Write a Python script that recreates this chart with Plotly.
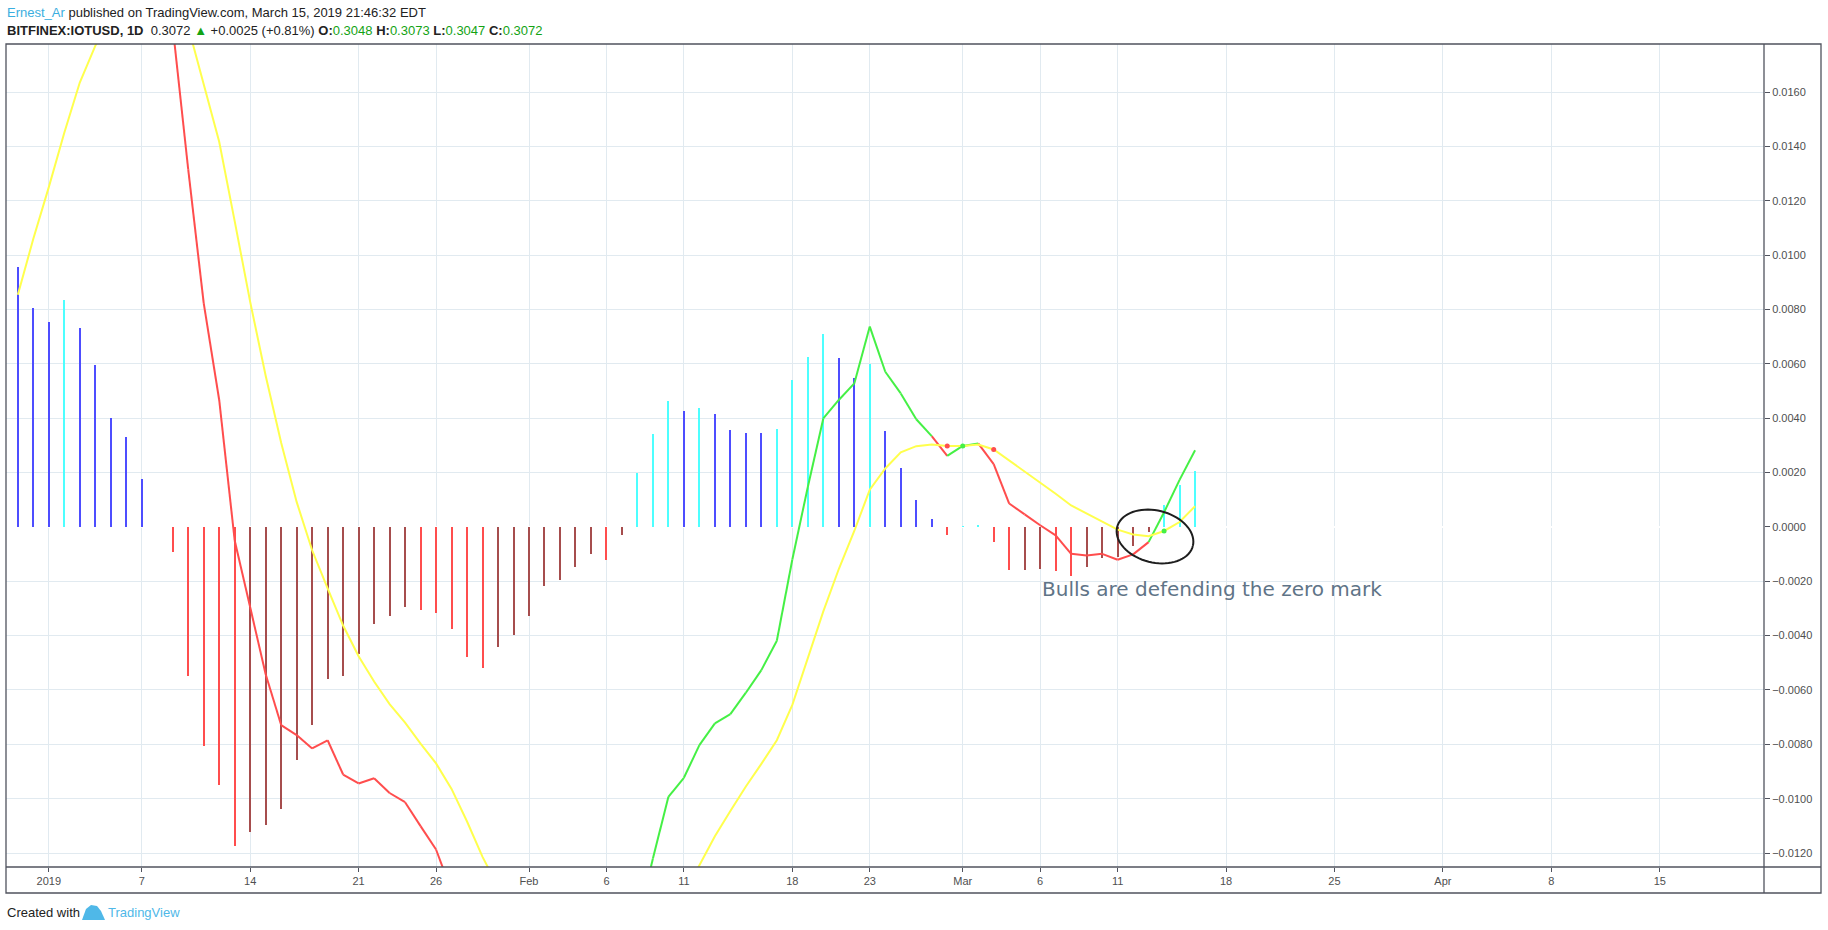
import numpy as np
import pandas as pd
import plotly.graph_objects as go

# daily MACD study, Dec 30 2018 .. Mar 16 2019
start_date = "2018-12-30"

hist = [
    0.00958, 0.00806,
    # Jan
    0.00755, 0.00836, 0.00733, 0.00596, 0.00400, 0.00330, 0.00175, 0.0,
    -0.00093, -0.00548, -0.00806, -0.00950, -0.01175, -0.01124, -0.01098, -0.01039,
    -0.00858, -0.00729, -0.00559, -0.00548, -0.00468, -0.00356, -0.00327, -0.00293,
    -0.00304, -0.00317, -0.00376, -0.00478, -0.00518, -0.00441, -0.00397,
    # Feb
    -0.00327, -0.00216, -0.00197, -0.00149, -0.00098, -0.00120, -0.00031, 0.00200,
    0.00341, 0.00463, 0.00426, 0.00437, 0.00415, 0.00356, 0.00345, 0.00344,
    0.00360, 0.00540, 0.00626, 0.00710, 0.00622, 0.00548, 0.00600, 0.00353,
    0.00216, 0.00098, 0.00028, -0.00031,
    # Mar
    0.00001, 0.00004, -0.00056, -0.00160, -0.00158, -0.00154, -0.00163, -0.00182,
    -0.00148, -0.00114, -0.00111, -0.00071, -0.00018, 0.00080, 0.00153, 0.00205,
]

macd = [
    0.0181, 0.0187,
    0.0200, 0.0229, 0.0237, 0.0237, 0.0227, 0.0228, 0.0217, 0.0199,
    0.0184, 0.01315, 0.00823, 0.00467, -0.0005, -0.00296, -0.00542, -0.00729,
    -0.00766, -0.00815, -0.00785, -0.00911, -0.00944, -0.00925, -0.00979, -0.01013,
    -0.01101, -0.01187, -0.0134, -0.0156, -0.0173, -0.0177, -0.0182,
    -0.0183, -0.0178, -0.0181, -0.0180, -0.0177, -0.0182, -0.0174, -0.0146,
    -0.0122, -0.00993, -0.00923, -0.00803, -0.00723, -0.00689, -0.0061, -0.00527,
    -0.00419, -0.0012, 0.00147, 0.00399, 0.00467, 0.00528, 0.00737, 0.00571,
    0.00491, 0.00396, 0.00334, 0.00261,
    0.00298, 0.00307, 0.00231, 0.00086, 0.00046, 0.00006, -0.00031, -0.00099,
    -0.00105, -0.00099, -0.00121, -0.00101, -0.00056, 0.00054, 0.00173, 0.00282,
]

signal = [
    0.00854, 0.0106,
    0.0125, 0.0145, 0.01635, 0.0177, 0.0187, 0.0195, 0.0199, 0.0199,
    0.0194, 0.0184, 0.01629, 0.01417, 0.01125, 0.00828, 0.00556, 0.0031,
    0.00092, -0.00086, -0.00226, -0.00363, -0.00476, -0.00569, -0.00652, -0.0072,
    -0.00797, -0.0087, -0.00964, -0.01084, -0.01214, -0.01324, -0.01424,
    -0.01506, -0.0156, -0.01609, -0.01646, -0.01671, -0.01701, -0.01709, -0.01659,
    -0.01574, -0.01456, -0.01352, -0.01243, -0.01138, -0.01045, -0.00955, -0.00872,
    -0.00785, -0.00655, -0.00483, -0.00311, -0.00155, -0.00015, 0.00137, 0.00215,
    0.00274, 0.00297, 0.00303, 0.00298,
    0.00298, 0.00303, 0.00285, 0.00245, 0.00202, 0.00162, 0.00122, 0.00079,
    0.00049, 0.00018, -0.0001, -0.00028, -0.00034, -0.00015, 0.00018, 0.00076,
]

tick_dates = ["2019-01-01", "2019-01-07", "2019-01-14", "2019-01-21", "2019-01-26",
              "2019-02-01", "2019-02-06", "2019-02-11", "2019-02-18", "2019-02-23",
              "2019-03-01", "2019-03-06", "2019-03-11", "2019-03-18", "2019-03-25",
              "2019-04-01", "2019-04-08", "2019-04-15"]
tick_text = ["2019", "7", "14", "21", "26", "Feb", "6", "11", "18", "23",
             "Mar", "6", "11", "18", "25", "Apr", "8", "15"]

dates = pd.date_range(start_date, periods=len(hist), freq="D")

CYAN, BLUE, RED, DARK = "#4dffff", "#4d4dff", "#ff4d4d", "#a64d4d"
GREEN, YELLOW = "#45f045", "#ffff4d"

# histogram colours: grow/fall above and below zero
bar_colors = []
for i, h in enumerate(hist):
    prev = hist[i - 1] if i else float("inf")
    if h >= 0:
        bar_colors.append(CYAN if h > prev else BLUE)
    else:
        bar_colors.append(RED if h < prev else DARK)

# macd line coloured by its side of the signal line
gx, gy, rx, ry = [], [], [], []
for i in range(1, len(dates)):
    sx = [dates[i - 1], dates[i], None]
    sy = [macd[i - 1], macd[i], None]
    if hist[i] >= 0:
        gx += sx; gy += sy
    else:
        rx += sx; ry += sy

cx, cy, cc = [], [], []
for i in range(1, len(dates)):
    if (hist[i] >= 0) != (hist[i - 1] >= 0):
        cx.append(dates[i]); cy.append(signal[i])
        cc.append(GREEN if hist[i] >= 0 else RED)

fig = go.Figure()
fig.add_trace(go.Bar(x=dates, y=hist, width=11.2e6,
                     marker=dict(color=bar_colors, line=dict(width=0))))
fig.add_trace(go.Scatter(x=rx, y=ry, mode="lines", line=dict(color=RED, width=2)))
fig.add_trace(go.Scatter(x=gx, y=gy, mode="lines", line=dict(color=GREEN, width=2)))
fig.add_trace(go.Scatter(x=dates, y=signal, mode="lines", line=dict(color=YELLOW, width=2)))
fig.add_trace(go.Scatter(x=cx, y=cy, mode="markers", marker=dict(color=cc, size=5)))

# layout geometry in pixels
W, H = 1828, 930
L, R, T, B = 6, 64, 44, 63
pw, ph = W - L - R, H - T - B
px = lambda x: (x - L) / pw
py = lambda y: (H - B - y) / ph

FRAME = "#50535e"
TICKFONT = dict(family="Liberation Sans, Arial", size=11, color="#4f4f4f")

fig.update_layout(
    width=W, height=H, margin=dict(l=L, r=R, t=T, b=B),
    paper_bgcolor="white", plot_bgcolor="white",
    showlegend=False, hovermode=False, bargap=0,
    xaxis=dict(type="date", range=["2018-12-29 05:40", "2019-04-21 17:30"],
               tickvals=tick_dates, ticktext=tick_text,
               showgrid=True, gridcolor="#e1eaf0", gridwidth=1,
               ticks="outside", ticklen=4, tickcolor=FRAME,
               tickfont=TICKFONT, showline=False, zeroline=False),
    yaxis=dict(side="right", range=[-0.012513, 0.017767],
               tick0=0, dtick=0.002, tickformat=".4f",
               showgrid=True, gridcolor="#e1eaf0", gridwidth=1,
               zeroline=True, zerolinecolor="white", zerolinewidth=2,
               ticks="outside", ticklen=5, tickcolor=FRAME,
               tickfont=TICKFONT, showline=False),
)

# chart frame and axis separators
fig.add_shape(type="rect", xref="paper", yref="paper",
              x0=0, x1=px(1821), y0=py(893), y1=1,
              line=dict(color=FRAME, width=1.3))
fig.add_shape(type="line", xref="paper", yref="paper",
              x0=1, x1=1, y0=py(893), y1=1, line=dict(color=FRAME, width=1.3))
fig.add_shape(type="line", xref="paper", yref="paper",
              x0=0, x1=px(1821), y0=0, y1=0, line=dict(color=FRAME, width=1.3))

# hand-drawn, slightly tilted ellipse round the zero cross
t = np.linspace(0, 2 * np.pi, 73)
ang = np.radians(14)
ex = 1155 + 39 * np.cos(t) * np.cos(ang) - 26 * np.sin(t) * np.sin(ang)
ey = 536.5 + 39 * np.cos(t) * np.sin(ang) + 26 * np.sin(t) * np.cos(ang)
ell = "M " + " L ".join(f"{px(a):.5f},{py(b):.5f}" for a, b in zip(ex, ey))
fig.add_shape(type="path", xref="paper", yref="paper", path=ell,
              line=dict(color="#1e1e1e", width=2))

fig.add_annotation(x="2019-03-06", y=-0.0023, xref="x", yref="y",
                   xanchor="left", yanchor="middle", showarrow=False,
                   text="Bulls are defending the zero mark",
                   font=dict(family="DejaVu Sans", size=20, color="#5f7487"))

HEAD = dict(family="Liberation Sans, Arial", size=13, color="#222222")
GRN = "#14a314"
fig.add_annotation(xref="paper", yref="paper", x=px(5), y=py(13), xanchor="left",
                   yanchor="middle", showarrow=False, font=HEAD,
                   text="<span style='color:#3aaee0'>Ernest_Ar</span> published on "
                        "TradingView.com, March 15, 2019 21:46:32 EDT")
fig.add_annotation(xref="paper", yref="paper", x=px(5), y=py(31), xanchor="left",
                   yanchor="middle", showarrow=False, font=HEAD,
                   text=f"<b>BITFINEX:IOTUSD, 1D</b>  0.3072 <span style='color:{GRN}'>▲</span>"
                        f" +0.0025 (+0.81%) <b>O:</b><span style='color:{GRN}'>0.3048</span>"
                        f" <b>H:</b><span style='color:{GRN}'>0.3073</span>"
                        f" <b>L:</b><span style='color:{GRN}'>0.3047</span>"
                        f" <b>C:</b><span style='color:{GRN}'>0.3072</span>")
fig.add_annotation(xref="paper", yref="paper", x=px(5), y=py(912), xanchor="left",
                   yanchor="middle", showarrow=False, font=HEAD, text="Created with")
fig.add_shape(type="path", xref="paper", yref="paper", fillcolor="#4fb8e8",
              line=dict(width=0),
              path=f"M {px(82)},{py(920)} L {px(86)},{py(909)} L {px(91)},{py(905)} "
                   f"L {px(97)},{py(906)} L {px(101)},{py(911)} L {px(105)},{py(920)} Z")
fig.add_annotation(xref="paper", yref="paper", x=px(106), y=py(912), xanchor="left",
                   yanchor="middle", showarrow=False,
                   font=dict(family="Liberation Sans, Arial", size=13, color="#4fb8e8"),
                   text="TradingView")

fig.write_html("out.html", config={"displayModeBar": False},
               post_script="document.body.style.margin='0';")
